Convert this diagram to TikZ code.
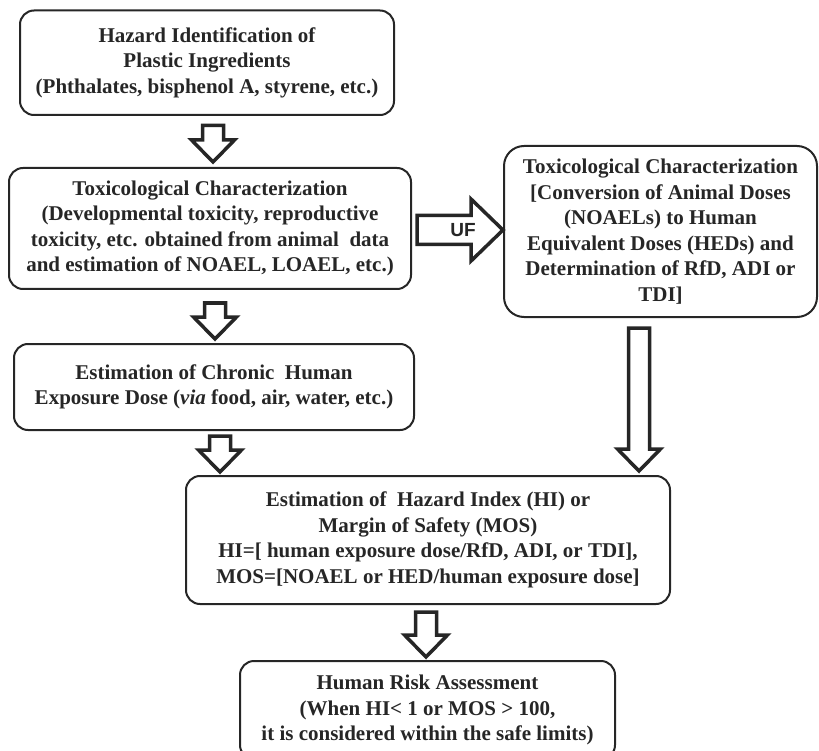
\documentclass[tikz,border=0pt]{standalone}
\usepackage{fontspec}
\setmainfont{Liberation Serif}
\setsansfont{Liberation Sans}
\usetikzlibrary{calc}

\tikzset{
	flowbox/.style={draw=black!85, line width=2pt, rounded corners=14pt, align=center, inner sep=0pt,
		text=black!85, font=\fontsize{21}{25.5}\selectfont\bfseries},
	fatarrow/.style={draw=black!85, line width=3.5pt, fill=white, line join=miter},
}

\begin{document}
\begin{tikzpicture}[x=1pt, y=-1pt]

\def\shaftHalf{10.5pt}
\def\headHalf{21.5pt}
\def\headLen{22pt}

% hollow block arrow pointing down, x taken from the start point
\newcommand*{\fatdown}[2]{
	\draw [fatarrow] let \p1=(#1), \p2=(#2) in
		(\x1-\shaftHalf,\y1) -- (\x1+\shaftHalf,\y1) -- (\x1+\shaftHalf,\y2+\headLen) -- (\x1+\headHalf,\y2+\headLen)
		-- (\x1,\y2) -- (\x1-\headHalf,\y2+\headLen) -- (\x1-\shaftHalf,\y2+\headLen) -- cycle;
}
% the same, pointing right (wider)
\newcommand*{\fatright}[2]{
	\draw [fatarrow] let \p1=(#1), \p2=(#2) in
		(\x1,\y1-14.5pt) -- (\x2-32pt,\y1-14.5pt) -- (\x2-32pt,\y1-31pt) -- (\x2,\y1)
		-- (\x2-32pt,\y1+31pt) -- (\x2-32pt,\y1+14.5pt) -- (\x1,\y1+14.5pt) -- cycle;
}

\useasboundingbox (0,0) rectangle (819,751);

% boxes
\node [flowbox, minimum width=374, minimum height=104.5] (hazid) at (207,62.75)
	{Hazard Identification of\\ Plastic Ingredients\\ (Phthalates, bisphenol A, styrene, etc.)};
\node [flowbox, minimum width=402, minimum height=121] (toxchar) at (210,228.5)
	{Toxicological Characterization\\ (Developmental toxicity, reproductive\\ toxicity, etc. obtained from animal\ \ data\\ and estimation of NOAEL, LOAEL, etc.)};
\node [flowbox, minimum width=313, minimum height=171, rounded corners=20pt] (humaneq) at (660.5,231.5)
	{Toxicological Characterization\\ {[}Conversion of Animal Doses\\ (NOAELs) to Human\\ Equivalent Doses (HEDs) and\\ Determination of RfD, ADI or\\ TDI]};
\node [flowbox, minimum width=400, minimum height=86] (expdose) at (214,387)
	{Estimation of Chronic\ \ Human\\ Exposure Dose (\textit{via} food, air, water, etc.)};
\node [flowbox, minimum width=484, minimum height=128] (hi) at (428,540)
	{Estimation of\ \ Hazard Index (HI) or\\ Margin of Safety (MOS)\\ HI=[ human exposure dose/RfD, ADI, or TDI],\\ MOS=[NOAEL or HED/human exposure dose]};
\node [flowbox, minimum width=375, minimum height=98] (risk) at (427.5,710)
	{Human Risk Assessment\\ (When HI< 1 or MOS > 100,\\ it is considered within the safe limits)};

% arrow ends
\coordinate (a1s) at ($(hazid.south)+(6,9.5)$);
\coordinate (a1e) at ($(a1s |- toxchar.north)+(0,-5)$);
\coordinate (a2s) at ($(toxchar.south)+(5,13)$);
\coordinate (a2e) at ($(a2s |- expdose.north)+(0,-4)$);
\coordinate (a3s) at ($(expdose.south)+(6,5)$);
\coordinate (a3e) at ($(a3s |- hi.north)+(0,-3)$);
\coordinate (a4s) at ($(humaneq.south)+(-21.5,10)$);
\coordinate (a4e) at ($(a4s |- hi.north)+(0,-4)$);
\coordinate (a5s) at ($(hi.south)+(-2,7)$);
\coordinate (a5e) at ($(a5s |- risk.north)+(0,-3)$);
\coordinate (ufs) at ($(toxchar.east)+(5,1.5)$);
\coordinate (ufe) at (ufs -| humaneq.west);

\fatdown{a1s}{a1e}
\fatdown{a2s}{a2e}
\fatdown{a3s}{a3e}
\fatdown{a4s}{a4e}
\fatdown{a5s}{a5e}
\fatright{ufs}{ufe}

\node [font=\fontsize{19}{19}\selectfont\sffamily\bfseries, text=black!85] (uf) at ($(ufs)+(46,0)$) {UF};

\end{tikzpicture}
\end{document}
